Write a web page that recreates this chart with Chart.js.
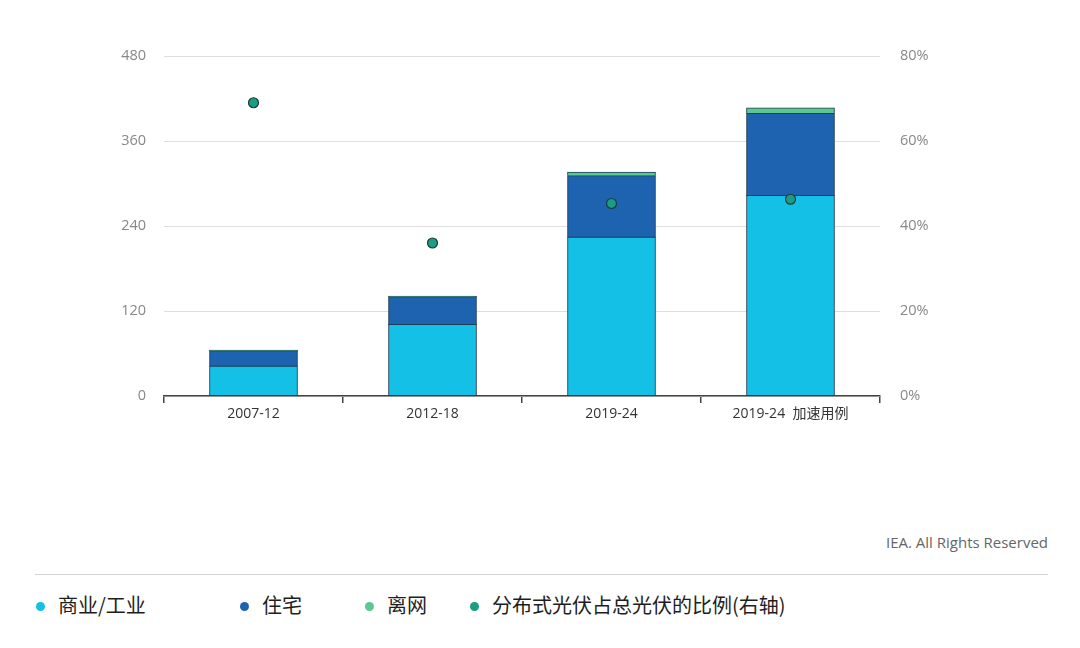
<!DOCTYPE html>
<html>
<head>
<meta charset="utf-8">
<script src="https://cdn.jsdelivr.net/npm/chart.js@4.4.1/dist/chart.umd.min.js"></script>
<style>
    html, body { margin: 0; padding: 0; background: #fff; }
    #wrap { position: relative; width: 1080px; height: 648px; overflow: hidden; }
    #chartBox { position: absolute; left: 0; top: 0; width: 1080px; height: 430px; }
    .credit {
        position: absolute; right: 32px; top: 532px;
        font: 15px "Open Sans", "Noto Sans", sans-serif; color: #666;
    }
    .sep { position: absolute; left: 35px; width: 1013px; top: 574px; height: 0; border-top: 1.5px solid #d4d4d4; }
    .legend-item {
        position: absolute; top: 590px; height: 28px; line-height: 28px;
        font: 20px "Noto Sans CJK SC", sans-serif; color: #1e1e1e; white-space: nowrap;
    }
    .legend-item .dot {
        display: inline-block; width: 9px; height: 9px; border-radius: 50%;
        vertical-align: middle; margin-right: 13px; position: relative; top: -1px;
    }
</style>
</head>
<body>
<div id="wrap">
    <div id="chartBox"><canvas id="chart"></canvas></div>
    <div class="credit">IEA. All Rights Reserved</div>
    <div class="sep"></div>
    <div id="legend"></div>
</div>
<script>
// ============ Data ============
const categories = ['2007-12', '2012-18', '2019-24', '2019-24  加速用例'];
const commercial = [42, 101, 224, 283];
const residential = [22, 39, 87, 116];
const offGrid = [0.5, 1, 5, 7.5];
const shareOfTotal = [69, 36, 45.3, 46.3];   // %, right axis

const leftTicks = [0, 120, 240, 360, 480];
const rightTicks = [0, 20, 40, 60, 80];

const seriesNames = ['商业/工业', '住宅', '离网', '分布式光伏占总光伏的比例(右轴)'];
const colors = {
    commercial: '#15c0e6',
    residential: '#1e63b0',
    offGrid: '#5cc891',
    share: '#1a9d83'
};

// ============ Legend ============
const legendLeft = [36, 240, 365, 470];
const legendColors = [colors.commercial, colors.residential, colors.offGrid, colors.share];
const legendEl = document.getElementById('legend');
seriesNames.forEach((name, i) => {
    const item = document.createElement('div');
    item.className = 'legend-item';
    item.style.left = legendLeft[i] + 'px';
    item.innerHTML = `<span class="dot" style="background:${legendColors[i]}"></span>${name}`;
    legendEl.appendChild(item);
});

// ============ Chart ============
const numFont = { family: '"Open Sans", "Noto Sans", sans-serif', size: 14.5 };
const catFont = { family: '"Open Sans", "Noto Sans CJK SC", sans-serif', size: 14 };
const barBorder = '#1f3c56';

const ctx = document.getElementById('chart').getContext('2d');
new Chart(ctx, {
    data: {
        labels: categories,
        datasets: [
            {
                type: 'line',
                label: seriesNames[3],
                data: shareOfTotal,
                yAxisID: 'y1',
                showLine: false,
                pointRadius: 5,
                pointHoverRadius: 5,
                pointBackgroundColor: colors.share,
                pointBorderColor: '#1c3a36',
                pointBorderWidth: 1.2,
                order: 0
            },
            {
                type: 'bar',
                label: seriesNames[0],
                data: commercial,
                backgroundColor: colors.commercial,
                borderColor: barBorder,
                borderWidth: 1,
                borderSkipped: false,
                inflateAmount: 0.5,
                stack: 's',
                order: 1
            },
            {
                type: 'bar',
                label: seriesNames[1],
                data: residential,
                backgroundColor: colors.residential,
                borderColor: barBorder,
                borderWidth: 1,
                borderSkipped: false,
                inflateAmount: 0.5,
                stack: 's',
                order: 1
            },
            {
                type: 'bar',
                label: seriesNames[2],
                data: offGrid,
                backgroundColor: colors.offGrid,
                borderColor: barBorder,
                borderWidth: { top: 1, left: 1, right: 1, bottom: 0 },
                borderSkipped: false,
                inflateAmount: 0.5,
                stack: 's',
                order: 1
            }
        ]
    },
    options: {
        responsive: true,
        maintainAspectRatio: false,
        animation: false,
        layout: { padding: { top: 56, bottom: 0, left: 0, right: 0 } },
        datasets: { bar: { barPercentage: 0.49, categoryPercentage: 1 } },
        plugins: { legend: { display: false }, tooltip: { enabled: false } },
        scales: {
            x: {
                stacked: true,
                offset: true,
                grid: {
                    display: true,
                    offset: true,
                    drawOnChartArea: false,
                    tickLength: 7,
                    color: '#444',
                    lineWidth: 1.5
                },
                border: { display: true, color: '#444', width: 1.5 },
                ticks: { color: '#333', font: catFont, padding: 3 },
                afterFit: (scale) => { scale.height = 34; }
            },
            y: {
                stacked: true,
                position: 'left',
                min: leftTicks[0],
                max: leftTicks[leftTicks.length - 1],
                afterBuildTicks: (scale) => { scale.ticks = leftTicks.map(v => ({ value: v })); },
                grid: { color: '#dedede', lineWidth: 1, drawTicks: false },
                border: { display: false },
                ticks: { color: '#888', font: numFont, padding: 18 },
                afterFit: (scale) => { scale.width = 164; }
            },
            y1: {
                position: 'right',
                min: rightTicks[0],
                max: rightTicks[rightTicks.length - 1],
                afterBuildTicks: (scale) => { scale.ticks = rightTicks.map(v => ({ value: v })); },
                grid: { display: false, drawTicks: false },
                border: { display: false },
                ticks: {
                    color: '#888',
                    font: numFont,
                    padding: 20,
                    callback: (v) => v + '%'
                },
                afterFit: (scale) => { scale.width = 200; }
            }
        }
    }
});
</script>
</body>
</html>
